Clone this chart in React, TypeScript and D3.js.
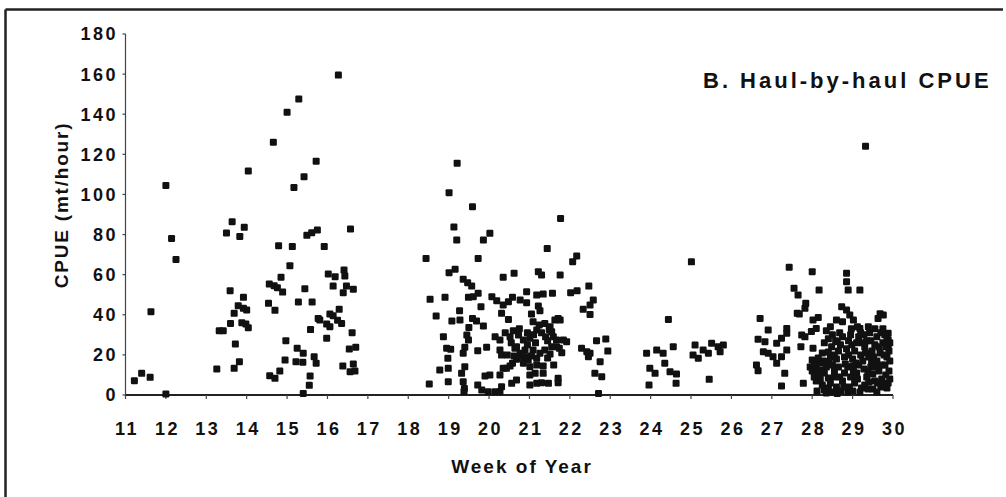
import React from "react";
import * as d3 from "d3";

// ---- Data: [week of year, CPUE (mt/hour)] ----
const hauls11to17: [number, number][] = [
  [11.22, 7.1], [11.4, 10.8], [11.61, 8.8], [11.63, 41.5], [12.0, 0.5], [12.0, 104.5], [12.14, 78], [12.25, 67.6],
  [13.26, 13], [13.32, 32], [13.42, 32], [13.59, 52], [13.6, 35.7], [13.69, 40.7], [13.79, 44.5], [13.92, 43.2],
  [14.0, 42.4], [13.72, 25.4], [13.69, 13.3], [13.82, 16.6], [13.88, 36], [13.98, 35.4], [14.04, 33.5], [13.92, 48.7],
  [14.04, 111.7], [13.5, 80.8], [13.64, 86.4], [13.83, 79], [13.94, 83.6], [14.66, 126], [15.0, 141], [15.29, 147.6],
  [15.17, 103.5], [15.42, 108.8], [15.72, 116.6], [15.49, 79.6], [15.61, 80.9], [15.75, 82.3], [14.79, 74.4], [15.13, 74],
  [15.92, 74], [16.27, 159.5], [16.57, 82.8], [14.56, 55.3], [14.68, 54.5], [14.76, 53.5], [14.85, 58.7], [14.89, 51.3],
  [14.54, 45.7], [14.7, 42.2], [15.07, 64.5], [14.97, 27.1], [14.95, 17.4], [14.82, 12], [14.57, 9.6], [14.7, 8.3],
  [15.28, 46.4], [15.44, 53], [15.25, 23.3], [15.4, 20.8], [15.22, 16.6], [15.39, 16.3], [15.4, 0.8], [15.57, 9.5],
  [15.55, 4.8], [15.58, 32.6], [15.62, 46.4], [15.67, 19.1], [15.72, 15.8], [15.77, 38.2], [15.81, 37.4], [15.98, 28.3],
  [16.02, 60.3], [16.19, 59], [16.41, 62.3], [16.43, 59.3], [16.14, 54.3], [16.47, 54.3], [16.64, 52.7], [16.39, 51],
  [16.29, 42.7], [16.06, 40.4], [16.14, 39.5], [15.98, 35.4], [16.06, 34], [16.35, 35.7], [16.61, 31.1], [16.54, 22.9],
  [16.7, 23.8], [16.38, 14.5], [16.64, 15.5], [16.56, 11.6], [16.68, 12], [16.25, 37.3],
];

const hauls18to23: [number, number][] = [
  [18.44, 68.1], [19.73, 68.1], [19.01, 61], [19.16, 62.7], [19.36, 57.7], [19.47, 56], [19.57, 54.3], [20.35, 58.7],
  [20.62, 60.7], [21.22, 61.5], [21.3, 59.8], [21.76, 59.8], [22.02, 51], [22.18, 52], [22.47, 54.3], [18.54, 47.7],
  [18.91, 48.7], [19.49, 48.7], [19.61, 49], [19.73, 50.7], [20.07, 49], [20.19, 47], [19.8, 44], [20.58, 48.7],
  [20.77, 47.4], [20.93, 46], [20.48, 46.5], [20.93, 51.5], [21.18, 49.8], [21.34, 50.3], [21.57, 50.7], [21.22, 44.4],
  [21.26, 42], [22.58, 47.4], [22.5, 44.9], [22.33, 42.7], [22.5, 40.2], [19.27, 42], [19.28, 37.4], [19.08, 36.9],
  [18.69, 39.4], [19.59, 38.2], [19.69, 36.9], [19.86, 34.4], [20.35, 44.9], [20.31, 40.7], [20.48, 37.7], [21.05, 40.4],
  [21.09, 36.5], [21.24, 34.9], [21.18, 32.4], [21.38, 35.7], [21.51, 34], [21.63, 37.4], [21.71, 38.2], [21.76, 37.4],
  [21.49, 32.7], [19.5, 33.7], [18.87, 29.1], [19.45, 29.9], [19.49, 27.4], [20.15, 29], [20.27, 27.4], [20.52, 29],
  [20.73, 29.9], [20.85, 27.4], [21.01, 28.3], [21.59, 29.1], [21.67, 27.4], [21.84, 27.4], [21.92, 26.6], [20.68, 24],
  [20.89, 22.4], [20.64, 23.3], [20.77, 20.8], [20.93, 19.1], [18.95, 23.3], [19.05, 22.8], [19.4, 23.8], [19.36, 20.8],
  [19.72, 22.1], [19.94, 23.8], [20.27, 22.4], [20.31, 19.9], [21.09, 22.4], [21.26, 20.8], [21.38, 22.4], [21.55, 24.1],
  [21.67, 24.1], [21.74, 23.3], [21.51, 20.4], [21.8, 21.1], [22.29, 23.3], [22.42, 21.6], [22.46, 19.1], [22.5, 20.8],
  [22.75, 16.6], [22.66, 27.1], [22.89, 27.9], [22.94, 21.9], [18.98, 18.3], [18.78, 12.5], [18.99, 13.3], [19.4, 14.1],
  [19.32, 10.8], [20.52, 14.5], [20.43, 13.3], [20.58, 15.8], [20.85, 15.8], [20.97, 17.4], [21.18, 18.3], [20.68, 17.8],
  [20.85, 19.1], [21.01, 14.1], [21.18, 15], [21.34, 14.5], [21.01, 10], [21.14, 10.8], [21.34, 10.8], [21.3, 6.1],
  [21.71, 8.3], [21.71, 6.1], [21.47, 5.8], [21.01, 5], [21.18, 5.8], [18.52, 5.5], [18.99, 6.6], [19.36, 6.6],
  [19.39, 3.3], [19.38, 1.6], [19.72, 5], [19.9, 9.5], [20.02, 10], [19.82, 2.5], [19.98, 1.6], [20.15, 1.6],
  [20.27, 1.6], [20.31, 4.1], [20.27, 10], [20.35, 13.3], [20.56, 5.8], [20.68, 7.5], [22.62, 10.8], [22.79, 9.1],
  [22.71, 0.8], [19.21, 115.6], [19.01, 100.9], [19.59, 93.9], [21.77, 88], [19.13, 83.8], [19.2, 77.3], [19.86, 77.3],
  [20.02, 80.6], [21.44, 73], [22.17, 69.3], [22.07, 66.5],
  [20.6, 32], [20.75, 33], [20.95, 31], [21.1, 30], [21.4, 29], [20.55, 26], [20.95, 25], [21.15, 26],
  [21.45, 27], [20.4, 31], [21.3, 31], [21.55, 31.5], [20.45, 20], [20.62, 19.5], [21.05, 19.5], [21.45, 18.5],
  [21.6, 15],
];

const hauls24to27: [number, number][] = [
  [23.9, 20.8], [24.15, 22.4], [24.31, 20.8], [23.98, 13.3], [24.11, 10.8], [24.35, 15.8], [24.48, 11.6], [24.64, 10.5],
  [23.96, 5], [24.63, 5.8], [24.56, 24.1], [24.44, 37.7], [25.01, 66.4], [25.1, 24.9], [25.05, 19.9], [25.18, 18.3],
  [25.3, 22.4], [25.43, 20.8], [25.51, 25.8], [25.67, 24.1], [25.8, 24.9], [25.72, 21.6], [25.45, 7.8],
  [26.71, 38.2], [26.91, 32.4], [27.37, 33.2], [27.37, 30.8], [27.24, 28.3], [27.12, 25.8], [26.66, 27.8], [26.83, 26.6],
  [26.79, 21.6], [26.91, 20.8], [27.03, 19.1], [27.37, 22.4], [27.24, 19.1], [27.12, 15.8], [26.62, 15], [26.66, 12.1],
  [27.32, 10.8], [27.24, 4.5], [27.63, 40.7],
];

const hauls28to30: [number, number][] = [
  [27.78, 5.8], [27.72, 24.1], [27.74, 29.9], [28.02, 23.3], [27.82, 29], [27.98, 31.6], [28.1, 33.2], [28.02, 37.4],
  [28.15, 38.7], [27.68, 40.4], [27.82, 43.2], [27.84, 45.7], [27.65, 49.9], [27.55, 53.2], [27.43, 63.7], [28.0, 61.5],
  [28.17, 52.3], [28.85, 60.7], [28.85, 56.5], [28.89, 52.3], [29.18, 52.3], [28.73, 44], [28.85, 42.4], [28.93, 39.9],
  [28.6, 37.4], [28.75, 36.5], [29.02, 37.4], [29.18, 33.2], [29.39, 34], [29.63, 38.2], [29.68, 40.5], [29.76, 39.9],
  [29.88, 30.8], [29.88, 27.4], [29.88, 24.1], [28.45, 34], [28.35, 32], [29.32, 124],
  [27.95, 14], [28.05, 15.5], [28.0, 12], [28.1, 13], [28.15, 10.5], [28.2, 8], [28.05, 9], [28.25, 5],
  [28.3, 2.5], [28.35, 1], [28.4, 3.5], [28.45, 6], [28.3, 11], [28.2, 16], [28.35, 14], [28.15, 18.5],
  [28.25, 21], [28.3, 26], [28.4, 28], [28.45, 19], [28.5, 15], [28.55, 9], [28.6, 4], [28.5, 1.5],
  [28.62, 0.8], [28.7, 2], [28.75, 7], [28.8, 11], [28.55, 12], [28.6, 18], [28.58, 27], [28.5, 30],
  [28.65, 22], [28.7, 25], [28.75, 29], [28.8, 19], [28.85, 23], [28.9, 27], [28.95, 30], [28.88, 14],
  [28.95, 9], [28.92, 4], [29.0, 2], [29.05, 6], [29.1, 11], [29.0, 18], [29.05, 22], [29.1, 26],
  [29.15, 29], [29.2, 31], [29.2, 20], [29.15, 15], [29.22, 3.5], [29.3, 5], [29.35, 9], [29.28, 13],
  [29.3, 24], [29.35, 27], [29.4, 19], [29.42, 31], [29.45, 14], [29.5, 3], [29.55, 7], [29.5, 10.5],
  [29.48, 22], [29.55, 25], [29.6, 29], [29.6, 17], [29.65, 12], [29.7, 4], [29.72, 8], [29.68, 21],
  [29.75, 26], [29.75, 33], [29.8, 15], [29.82, 10], [29.85, 3.5], [29.88, 6], [29.9, 12], [29.85, 19],
  [29.9, 22], [29.8, 30], [29.92, 17],
  [28.12, 2], [28.22, 12.5], [28.4, 8.5], [28.42, 16.5], [28.48, 24], [28.55, 20], [28.65, 14], [28.68, 9],
  [28.78, 4], [28.82, 15.5], [28.9, 20], [28.98, 25], [29.02, 12], [29.08, 16], [29.12, 8], [29.18, 1.5],
  [29.25, 26], [29.25, 17], [29.32, 21], [29.38, 12], [29.38, 3], [29.45, 27], [29.52, 19], [29.58, 14],
  [29.62, 6], [29.65, 24], [29.7, 31], [29.72, 15], [29.78, 20], [29.82, 24], [29.85, 28], [29.78, 5],
  [29.92, 8], [29.92, 26], [29.6, 1.5], [29.4, 6.5], [28.97, 33], [29.12, 34], [29.28, 30], [29.55, 33],
  [28.68, 31], [28.62, 26.5], [28.4, 21.5], [28.28, 17], [28.1, 7], [28.0, 17.5], [28.88, 1.5], [29.0, 14.5],
  [29.47, 17],
];

const xTickValues = [11, 12, 13, 14, 15, 16, 17, 18, 19, 20, 21, 22, 23, 24, 25, 26, 27, 28, 29, 30];
const yTickValues = [0, 20, 40, 60, 80, 100, 120, 140, 160, 180];
const chartTitle = "B. Haul-by-haul CPUE";
const xAxisTitle = "Week of Year";
const yAxisTitle = "CPUE (mt/hour)";

export default function App() {
  const W = 1006;
  const H = 497;
  const x = d3.scaleLinear().domain([11, 30]).range([125.5, 893]);
  const y = d3.scaleLinear().domain([0, 180]).range([395, 34]);
  const all = [...hauls11to17, ...hauls18to23, ...hauls24to27, ...hauls28to30];
  const font = "'Liberation Sans', Arial, sans-serif";
  const s = 7;
  const ink = "#111";

  return (
    <svg
      width={W}
      height={H}
      viewBox={`0 0 ${W} ${H}`}
      style={{ position: "absolute", left: 0, top: 0, background: "#fff" }}
      fontFamily={font}
    >
      <rect x={0} y={0} width={W} height={H} fill="#fff" />
      {/* frame (top and left) */}
      <line x1={5.5} y1={9.5} x2={1003} y2={9.5} stroke="#222" strokeWidth={2.5} />
      <line x1={5.5} y1={9.5} x2={5.5} y2={497} stroke="#222" strokeWidth={2.5} />

      {/* y axis */}
      <line x1={x(11)} y1={y(180)} x2={x(11)} y2={y(0)} stroke="#444" strokeWidth={1.2} />
      {yTickValues.map((v) => (
        <g key={"y" + v}>
          <line x1={x(11) - 3} x2={x(11)} y1={y(v)} y2={y(v)} stroke="#444" strokeWidth={1.2} />
          <text
            x={118}
            y={y(v)}
            dy="0.36em"
            textAnchor="end"
            fontSize={18}
            fontWeight="bold"
            letterSpacing={2.5}
            fill={ink}
          >
            {v}
          </text>
        </g>
      ))}

      {/* x axis */}
      <line x1={x(11)} y1={y(0)} x2={x(30)} y2={y(0)} stroke="#222" strokeWidth={2} />
      {xTickValues.map((w) => (
        <g key={"x" + w}>
          <line x1={x(w)} x2={x(w)} y1={y(0)} y2={y(0) + 4} stroke="#444" strokeWidth={1.2} />
          <text
            x={x(w) + 1.5}
            y={435}
            textAnchor="middle"
            fontSize={18}
            fontWeight="bold"
            letterSpacing={2.5}
            fill={ink}
          >
            {w}
          </text>
        </g>
      ))}

      {/* points */}
      {all.map(([w, v], i) => (
        <rect
          key={i}
          x={x(w) - s / 2}
          y={y(v) - s / 2}
          width={s}
          height={s}
          rx={1.2}
          fill={ink}
        />
      ))}

      {/* titles */}
      <text x={703} y={88} fontSize={22} fontWeight="bold" letterSpacing={3} fill={ink}>
        {chartTitle}
      </text>
      <text
        x={522}
        y={473}
        textAnchor="middle"
        fontSize={19}
        fontWeight="bold"
        letterSpacing={2}
        fill={ink}
      >
        {xAxisTitle}
      </text>
      <text
        transform={`translate(68,205) rotate(-90)`}
        textAnchor="middle"
        fontSize={19}
        fontWeight="bold"
        letterSpacing={1.8}
        fill={ink}
      >
        {yAxisTitle}
      </text>
    </svg>
  );
}
